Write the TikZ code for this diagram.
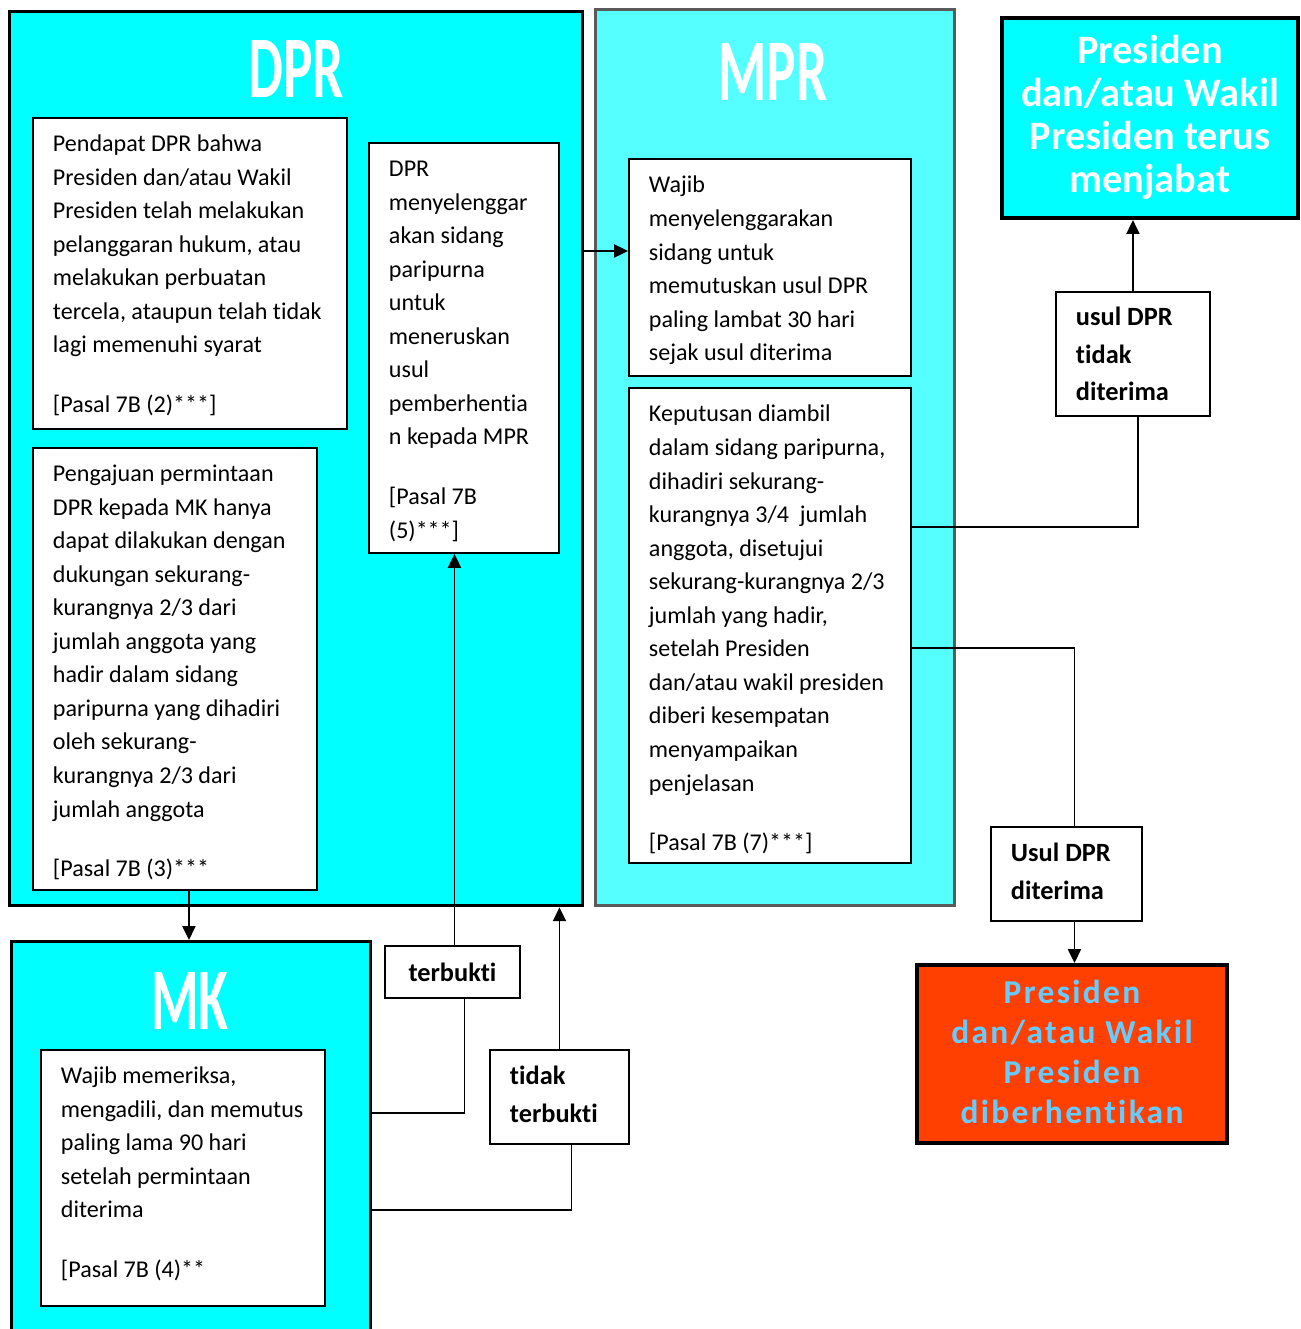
\documentclass[tikz,border=0pt]{standalone}
\usepackage{graphicx}
\usepackage{fontspec}
\setmainfont{Carlito}[Ligatures=NoCommon]
\usetikzlibrary{arrows.meta}

\newlength\px
\setlength\px{0.02cm}

\definecolor{dprcyan}{HTML}{00FFFF}
\definecolor{mprcyan}{HTML}{55FFFF}
\definecolor{mprline}{HTML}{5A5A5A}
\definecolor{hentired}{HTML}{FF4000}
\definecolor{hentiblue}{HTML}{66CCFF}

\newcommand\bodyfont{\fontsize{13.7}{19.1}\selectfont}
\newcommand\labelfont{\fontsize{15}{21.3}\selectfont\bfseries}
\newcommand\titlefont{\fontsize{50}{50}\selectfont\bfseries}
% box of fixed size, text from the top left
\newcommand\cellbox[4]{\parbox[c][#2\px][t]{#1\px}{\raggedright\leftskip=20\px\rule{0pt}{#3\px}#4}}

\tikzset{
  outer/.style={draw, line width=1.9pt, anchor=north west, inner sep=0pt},
  txtbox/.style={draw, fill=white, line width=1.1pt, anchor=north west, inner sep=0pt, font=\bodyfont},
  lblbox/.style={draw, fill=white, line width=1.1pt, anchor=north west, inner sep=0pt, font=\labelfont},
  title/.style={text=white, font=\titlefont, inner sep=0pt},
  conn/.style={line width=1.1pt},
  arr/.style={conn, -{Triangle[length=7.9pt,width=7.4pt]}}
}

\begin{document}
\begin{tikzpicture}[x=0.02cm, y=-0.02cm]
  \useasboundingbox (0,0) rectangle (1301,1329);

  % the three bodies
  \node[outer, fill=dprcyan, minimum width=573\px, minimum height=894\px] (dpr) at (8,10) {};
  \node[outer, fill=mprcyan, draw=mprline, minimum width=359\px, minimum height=896\px] (mpr) at (594,8) {};
  \node[outer, fill=dprcyan, minimum width=359\px, minimum height=392\px] (mk) at (10,940) {};
  \node[title] (dprtitle) at (296,69) {\scalebox{0.63}[1]{DPR}};
  \node[title] (mprtitle) at (773,72) {\scalebox{0.63}[1]{MPR}};
  \node[title] (mktitle) at (190,1001) {\scalebox{0.62}[1]{MK}};

  % outcomes
  \node[outer, fill=dprcyan, line width=2.3pt, minimum width=296\px, minimum height=200\px,
        align=center, text=white, font=\fontsize{23}{24.4}\selectfont\bfseries] (tetap) at (1000,16)
        {Presiden\\dan/atau Wakil\\Presiden terus\\menjabat\rule[-8\px]{0pt}{0pt}};
  \node[outer, fill=hentired, line width=2.3pt, minimum width=310\px, minimum height=178\px,
        align=center, text=hentiblue, font=\fontsize{19}{22.7}\selectfont\bfseries\addfontfeatures{LetterSpace=7}] (henti) at (915,963)
        {Presiden\\dan/atau Wakil\\Presiden\\diberhentikan\rule[-4\px]{0pt}{0pt}};

  % DPR
  \node[txtbox] (pendapat) at (32,117) {\cellbox{314}{311}{33.5}{Pendapat DPR bahwa\\
    Presiden dan/atau Wakil\\Presiden telah melakukan\\pelanggaran hukum, atau\\
    melakukan perbuatan\\tercela, ataupun telah tidak\\lagi memenuhi syarat\\[26\px]
    [Pasal 7B (2)***]}};
  \node[txtbox] (pengajuan) at (32,447) {\cellbox{284}{442}{33.5}{Pengajuan permintaan\\
    DPR kepada MK hanya\\dapat dilakukan dengan\\dukungan sekurang-\\kurangnya 2/3 dari\\
    jumlah anggota yang\\hadir dalam sidang\\paripurna yang dihadiri\\oleh sekurang-\\
    kurangnya 2/3 dari\\jumlah anggota\\[26\px][Pasal 7B (3)***}};
  \node[txtbox] (sidang) at (368,142) {\cellbox{190}{410}{33.5}{DPR\\menyelenggar\\akan sidang\\
    paripurna\\untuk\\meneruskan\\usul\\pemberhentia\\n kepada MPR\\[26\px][Pasal 7B\\(5)***]}};

  % MPR
  \node[txtbox] (wajib) at (628,158) {\cellbox{282}{217}{34}{Wajib\\menyelenggarakan\\
    sidang untuk\\memutuskan usul DPR\\paling lambat 30 hari\\sejak usul diterima}};
  \node[txtbox] (keputusan) at (628,387) {\cellbox{282}{475}{34}{Keputusan diambil\\
    dalam sidang paripurna,\\dihadiri sekurang-\\kurangnya 3/4~ jumlah\\anggota, disetujui\\
    sekurang-kurangnya 2/3\\jumlah yang hadir,\\setelah Presiden\\dan/atau wakil presiden\\
    diberi kesempatan\\menyampaikan\\penjelasan\\[26\px][Pasal 7B (7)***]}};

  % MK
  \node[txtbox] (periksa) at (40,1049) {\cellbox{284}{256}{33.5}{Wajib memeriksa,\\
    mengadili, dan memutus\\paling lama 90 hari\\setelah permintaan\\diterima\\[26\px]
    [Pasal 7B (4)**}};

  % decisions
  \node[lblbox, minimum width=135\px, minimum height=52\px] (terbukti) at (384,945) {terbukti};
  \node[lblbox] (tidakbukti) at (489,1049) {\cellbox{139}{94}{35}{tidak\\terbukti}};
  \node[lblbox] (tolak) at (1055,291) {\cellbox{154}{124}{34}{usul DPR\\tidak\\diterima}};
  \node[lblbox] (terima) at (990,826) {\cellbox{151}{94}{35}{Usul DPR\\diterima}};

  % connectors
  \draw[arr] ([xshift=0.28cm]pengajuan.south) -- ([xshift=0.28cm]pengajuan.south |- mk.north);
  \draw[conn] (mk.east |- 0,1113) -| ([xshift=0.24cm]terbukti.south);
  \draw[arr] ([xshift=0.04cm]terbukti.north) -- ([xshift=0.04cm]terbukti.north |- sidang.south);
  \draw[conn] (mk.east |- 0,1210) -| ([xshift=0.24cm]tidakbukti.south);
  \draw[arr] (tidakbukti.north) -- (tidakbukti.north |- dpr.south);
  \draw[arr] (dpr.east |- 0,251) -- (wajib.west |- 0,251);
  \draw[conn] (keputusan.east |- 0,527) -| ([xshift=0.1cm]tolak.south);
  \draw[arr] (tolak.north) -- (tolak.north |- tetap.south);
  \draw[conn] (keputusan.east |- 0,648) -| ([xshift=0.16cm]terima.north);
  \draw[arr] ([xshift=0.16cm]terima.south) -- ([xshift=0.16cm]terima.south |- henti.north);
\end{tikzpicture}
\end{document}
